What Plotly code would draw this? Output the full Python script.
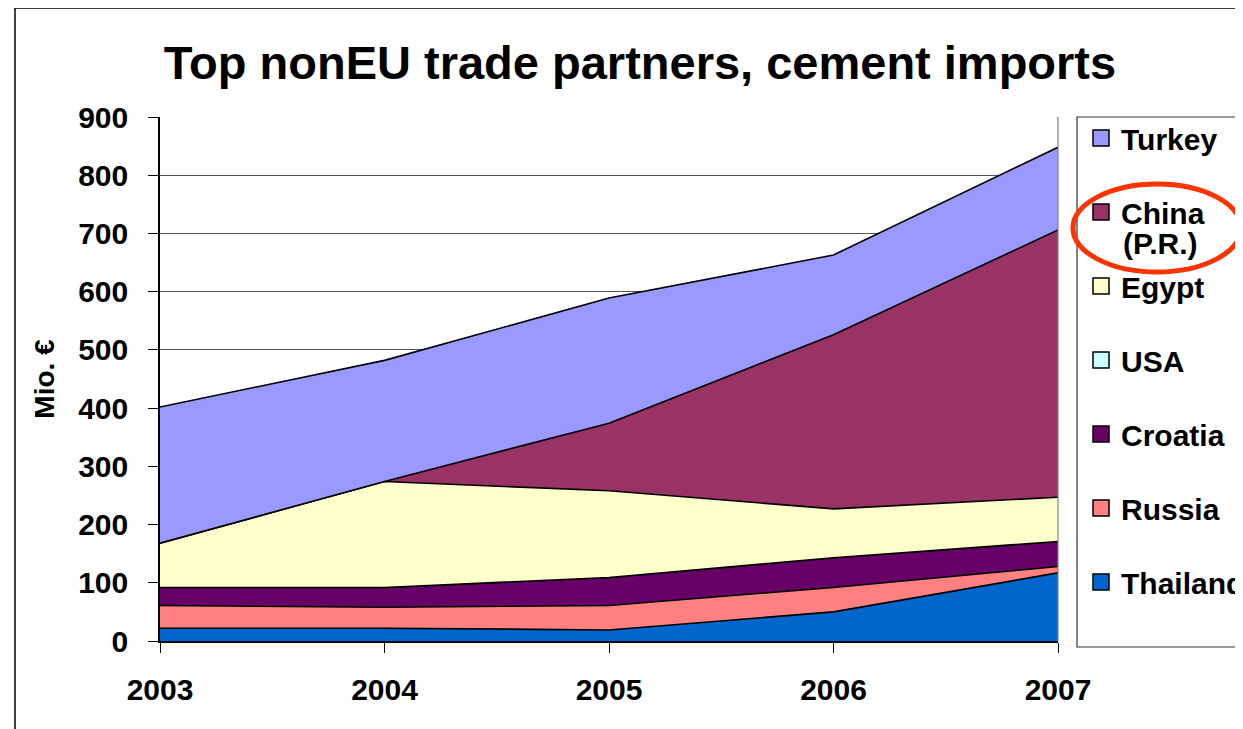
import plotly.graph_objects as go

# ---- data (Mio. €) ----
years = [2003, 2004, 2005, 2006, 2007]
thailand = [22, 22, 19, 50, 117]
russia = [39, 36, 42, 42, 11]
croatia = [31, 34, 48, 51, 43]
usa = [0, 0, 0, 0, 0]
egypt = [76, 182, 149, 84, 76]
china = [0, 0, 116, 299, 459]
turkey = [234, 208, 215, 137, 142]

stack_names = ["Thailand", "Russia", "Croatia", "USA", "Egypt", "China", "Turkey"]
stack_values = [thailand, russia, croatia, usa, egypt, china, turkey]
colors = {
    "Thailand": "#0066CC",
    "Russia": "#FF8080",
    "Croatia": "#660066",
    "USA": "#CCFFFF",
    "Egypt": "#FFFFCC",
    "China": "#993366",
    "Turkey": "#9999FF",
}
legend_order = ["Turkey", "China", "Egypt", "USA", "Croatia", "Russia", "Thailand"]
y_ticks = [0, 100, 200, 300, 400, 500, 600, 700, 800, 900]

FONT = "Liberation Sans, Arial, sans-serif"

fig = go.Figure()
for name, vals in zip(stack_names, stack_values):
    fig.add_trace(go.Scatter(
        x=years, y=vals, name=name, stackgroup="one", mode="lines",
        line=dict(color="black", width=1.6),
        fillcolor=colors[name], showlegend=False, hoverinfo="x+y+name",
    ))

# legend entries (square swatches)
for name in legend_order:
    fig.add_trace(go.Scatter(
        x=[None], y=[None], mode="markers", name=name, legendgroup=name,
        marker=dict(symbol="square", size=16, color=colors[name],
                    line=dict(color="black", width=1.5)),
    ))

OFF = 8  # page body margin
W, H = 1243, 729
L, R, T, B = 160 - OFF, 1058 - OFF, 117 - OFF, 641 - OFF
pw, ph = R - L, B - T

def px(xs):
    return (xs - OFF - L) / pw

def py(ys):
    return (B - (ys - OFF)) / ph

fig.update_layout(
    width=W, height=H,
    margin=dict(l=L, r=W - R, t=T, b=H - B, autoexpand=False),
    paper_bgcolor="white", plot_bgcolor="white",
    font=dict(family=FONT, color="black", size=30, weight="bold"),
    title=dict(text="Top nonEU trade partners, cement imports",
               font=dict(size=47, family=FONT, weight="bold"),
               x=(640 - OFF) / W, xanchor="center", y=1 - (63 - OFF) / H,
               yanchor="middle", xref="container", yref="container"),
    showlegend=True,
    legend=dict(x=px(1081), xanchor="left", y=1 + 5 / ph, yanchor="top",
                traceorder="grouped", tracegroupgap=32, maxheight=700,
                font=dict(size=30, family=FONT, weight="bold"),
                bgcolor="rgba(0,0,0,0)", borderwidth=0, itemwidth=30),
    xaxis=dict(range=[2003, 2007], tickvals=years, ticktext=[str(y) for y in years],
               showgrid=False, zeroline=False, showline=True, linecolor="black",
               linewidth=1.5, ticks="outside", ticklen=10, tickcolor="black",
               tickwidth=1.2, tickfont=dict(size=30, weight="bold"),
               ticklabelstandoff=11),
    yaxis=dict(range=[0, 900], tickvals=y_ticks, showgrid=True,
               gridcolor="#555555", gridwidth=1, zeroline=False, showline=True,
               linecolor="black", linewidth=1.5, ticks="outside", ticklen=10,
               tickcolor="black", tickwidth=1.2,
               tickfont=dict(size=30, weight="bold"), ticklabelstandoff=14,
               title=dict(text="Mio. €", font=dict(size=28, weight="bold"),
                          standoff=15)),
    shapes=[
        # outer chart border
        dict(type="rect", xref="paper", yref="paper", x0=px(15), x1=px(1400),
             y0=py(800), y1=py(8), line=dict(color="black", width=1.5),
             fillcolor="rgba(0,0,0,0)", layer="above"),
        # plot-area right border
        dict(type="line", xref="paper", yref="paper", x0=1, x1=1, y0=0, y1=1,
             line=dict(color="#808080", width=1.2), layer="above"),
        # legend box
        dict(type="rect", xref="paper", yref="paper", x0=px(1077), x1=px(1400),
             y0=py(647), y1=py(117), line=dict(color="#333333", width=1.2),
             fillcolor="rgba(0,0,0,0)", layer="above"),
        # red highlight ellipse
        dict(type="circle", xref="paper", yref="paper", x0=px(1073), x1=px(1241),
             y0=py(272), y1=py(184), line=dict(color="#FF3300", width=5),
             fillcolor="rgba(0,0,0,0)", layer="above"),
    ],
    annotations=[
        dict(text="(P.R.)", xref="paper", yref="paper", x=px(1121), y=py(243),
             xanchor="left", yanchor="middle", showarrow=False,
             font=dict(size=30, family=FONT, weight="bold")),
    ],
)

fig.write_html("out.html")
